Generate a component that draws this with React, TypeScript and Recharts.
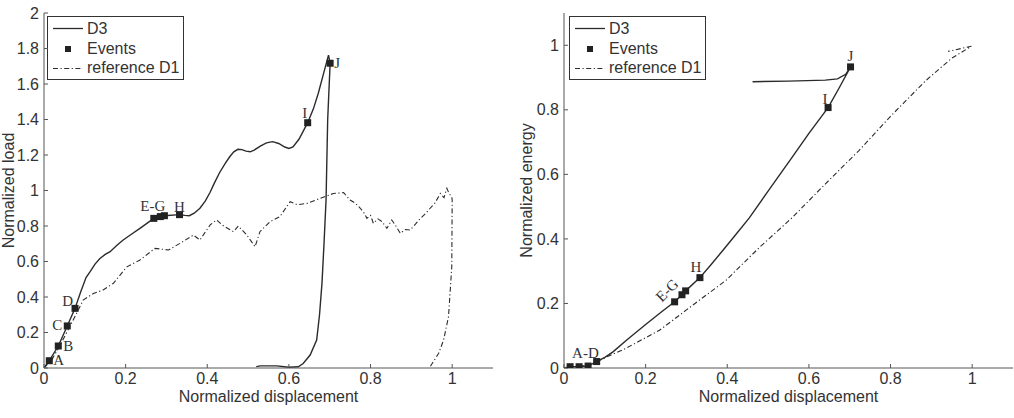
import React from "react";
import { ComposedChart, Line, Scatter, XAxis, YAxis, Label, Customized } from "recharts";

// axis ticks
const dispTicks = [0, 0.2, 0.4, 0.6, 0.8, 1];
const loadTicks = [0, 0.2, 0.4, 0.6, 0.8, 1, 1.2, 1.4, 1.6, 1.8, 2];
const energyTicks = [0, 0.2, 0.4, 0.6, 0.8, 1];

// load vs displacement, test D3 (loading up to J, then unloading)
const loadD3 = [
  { x: 0, y: 0 }, { x: 0.013, y: 0.041 }, { x: 0.035, y: 0.124 }, { x: 0.057, y: 0.237 },
  { x: 0.076, y: 0.336 }, { x: 0.09, y: 0.43 }, { x: 0.103, y: 0.51 }, { x: 0.113, y: 0.543 },
  { x: 0.125, y: 0.585 }, { x: 0.137, y: 0.617 }, { x: 0.15, y: 0.64 }, { x: 0.162, y: 0.655 },
  { x: 0.178, y: 0.69 }, { x: 0.194, y: 0.721 }, { x: 0.215, y: 0.755 }, { x: 0.235, y: 0.787 },
  { x: 0.252, y: 0.815 }, { x: 0.269, y: 0.843 }, { x: 0.285, y: 0.853 }, { x: 0.295, y: 0.858 },
  { x: 0.332, y: 0.864 }, { x: 0.345, y: 0.86 }, { x: 0.356, y: 0.858 }, { x: 0.368, y: 0.872 },
  { x: 0.382, y: 0.9 }, { x: 0.395, y: 0.94 }, { x: 0.407, y: 0.99 }, { x: 0.417, y: 1.04 },
  { x: 0.43, y: 1.1 }, { x: 0.444, y: 1.153 }, { x: 0.455, y: 1.19 }, { x: 0.465, y: 1.218 },
  { x: 0.475, y: 1.232 }, { x: 0.485, y: 1.23 }, { x: 0.495, y: 1.222 }, { x: 0.505, y: 1.218 },
  { x: 0.515, y: 1.228 }, { x: 0.53, y: 1.25 }, { x: 0.545, y: 1.268 }, { x: 0.56, y: 1.275 },
  { x: 0.575, y: 1.265 }, { x: 0.59, y: 1.245 }, { x: 0.6, y: 1.237 }, { x: 0.61, y: 1.245 },
  { x: 0.625, y: 1.29 }, { x: 0.646, y: 1.382 }, { x: 0.66, y: 1.46 }, { x: 0.672, y: 1.548 },
  { x: 0.685, y: 1.66 }, { x: 0.697, y: 1.763 }, { x: 0.701, y: 1.717 }, { x: 0.695, y: 1.4 },
  { x: 0.691, y: 0.946 }, { x: 0.686, y: 0.7 }, { x: 0.681, y: 0.477 }, { x: 0.675, y: 0.3 },
  { x: 0.668, y: 0.158 }, { x: 0.652, y: 0.073 }, { x: 0.635, y: 0.025 }, { x: 0.623, y: 0.007 },
  { x: 0.6, y: 0.004 }, { x: 0.57, y: 0.012 }, { x: 0.53, y: 0.012 }, { x: 0.52, y: 0.008 },
];

// load vs displacement, reference test D1
const loadD1 = [
  { x: 0, y: 0 }, { x: 0.02, y: 0.05 }, { x: 0.04, y: 0.13 }, { x: 0.06, y: 0.22 },
  { x: 0.078, y: 0.3 }, { x: 0.096, y: 0.383 }, { x: 0.121, y: 0.42 }, { x: 0.145, y: 0.44 },
  { x: 0.17, y: 0.477 }, { x: 0.203, y: 0.57 }, { x: 0.235, y: 0.608 }, { x: 0.272, y: 0.674 },
  { x: 0.305, y: 0.665 }, { x: 0.333, y: 0.702 }, { x: 0.366, y: 0.749 }, { x: 0.382, y: 0.721 },
  { x: 0.407, y: 0.806 }, { x: 0.423, y: 0.834 }, { x: 0.44, y: 0.8 }, { x: 0.464, y: 0.768 },
  { x: 0.476, y: 0.8 }, { x: 0.497, y: 0.749 }, { x: 0.517, y: 0.683 }, { x: 0.529, y: 0.768 },
  { x: 0.554, y: 0.825 }, { x: 0.578, y: 0.853 }, { x: 0.603, y: 0.937 }, { x: 0.62, y: 0.92 },
  { x: 0.644, y: 0.927 }, { x: 0.676, y: 0.955 }, { x: 0.709, y: 0.983 }, { x: 0.734, y: 0.988 },
  { x: 0.75, y: 0.946 }, { x: 0.762, y: 0.93 }, { x: 0.775, y: 0.9 }, { x: 0.785, y: 0.87 },
  { x: 0.791, y: 0.843 }, { x: 0.8, y: 0.86 }, { x: 0.807, y: 0.815 }, { x: 0.818, y: 0.84 },
  { x: 0.828, y: 0.825 }, { x: 0.84, y: 0.787 }, { x: 0.852, y: 0.834 }, { x: 0.862, y: 0.8 },
  { x: 0.873, y: 0.759 }, { x: 0.885, y: 0.78 }, { x: 0.897, y: 0.777 }, { x: 0.91, y: 0.81 },
  { x: 0.922, y: 0.843 }, { x: 0.935, y: 0.87 }, { x: 0.946, y: 0.9 }, { x: 0.958, y: 0.93 },
  { x: 0.971, y: 0.983 }, { x: 0.98, y: 0.96 }, { x: 0.987, y: 1.012 }, { x: 0.993, y: 0.98 },
  { x: 0.999, y: 0.965 }, { x: 1.0, y: 0.946 }, { x: 0.999, y: 0.57 }, { x: 0.991, y: 0.289 },
  { x: 0.979, y: 0.158 }, { x: 0.967, y: 0.083 }, { x: 0.946, y: 0.007 },
];

const loadEvents = [
  { x: 0.013, y: 0.041, tag: "A" }, { x: 0.035, y: 0.124, tag: "B" },
  { x: 0.057, y: 0.237, tag: "C" }, { x: 0.076, y: 0.336, tag: "D" },
  { x: 0.269, y: 0.843, tag: "E-G" }, { x: 0.285, y: 0.853, tag: "" },
  { x: 0.295, y: 0.858, tag: "" }, { x: 0.332, y: 0.864, tag: "H" },
  { x: 0.646, y: 1.382, tag: "I" }, { x: 0.701, y: 1.717, tag: "J" },
];

// energy vs displacement
const energyD3 = [
  { x: 0, y: 0 }, { x: 0.015, y: 0.004 }, { x: 0.037, y: 0.004 }, { x: 0.059, y: 0.006 },
  { x: 0.08, y: 0.02 }, { x: 0.1, y: 0.033 }, { x: 0.12, y: 0.05 }, { x: 0.153, y: 0.086 },
  { x: 0.2, y: 0.135 }, { x: 0.24, y: 0.175 }, { x: 0.271, y: 0.205 }, { x: 0.289, y: 0.227 },
  { x: 0.298, y: 0.239 }, { x: 0.333, y: 0.28 }, { x: 0.36, y: 0.32 }, { x: 0.389, y: 0.364 },
  { x: 0.42, y: 0.412 }, { x: 0.454, y: 0.465 }, { x: 0.5, y: 0.548 }, { x: 0.56, y: 0.655 },
  { x: 0.6, y: 0.727 }, { x: 0.647, y: 0.807 }, { x: 0.675, y: 0.87 }, { x: 0.702, y: 0.933 },
  { x: 0.69, y: 0.91 }, { x: 0.67, y: 0.896 }, { x: 0.64, y: 0.892 }, { x: 0.55, y: 0.889 },
  { x: 0.462, y: 0.887 },
];

const energyD1 = [
  { x: 0, y: 0 }, { x: 0.05, y: 0.008 }, { x: 0.08, y: 0.02 }, { x: 0.15, y: 0.06 },
  { x: 0.234, y: 0.117 }, { x: 0.3, y: 0.18 }, { x: 0.397, y: 0.272 }, { x: 0.48, y: 0.375 },
  { x: 0.56, y: 0.467 }, { x: 0.64, y: 0.57 }, { x: 0.722, y: 0.673 }, { x: 0.8, y: 0.78 },
  { x: 0.885, y: 0.889 }, { x: 0.95, y: 0.96 }, { x: 0.998, y: 0.997 }, { x: 0.941, y: 0.981 },
];

const energyEvents = [
  { x: 0.015, y: 0.004, tag: "A-D" }, { x: 0.037, y: 0.004, tag: "" },
  { x: 0.059, y: 0.006, tag: "" }, { x: 0.08, y: 0.02, tag: "" },
  { x: 0.271, y: 0.205, tag: "E-G" }, { x: 0.289, y: 0.227, tag: "" },
  { x: 0.298, y: 0.239, tag: "" }, { x: 0.333, y: 0.28, tag: "H" },
  { x: 0.647, y: 0.807, tag: "I" }, { x: 0.702, y: 0.933, tag: "J" },
];

type TagStyle = { dx: number; dy: number; anchor: "start" | "middle" | "end"; rotate?: number };

const loadTagStyle: Record<string, TagStyle> = {
  A: { dx: 4, dy: 4, anchor: "start" },
  B: { dx: 5, dy: 5, anchor: "start" },
  C: { dx: -5, dy: 4, anchor: "end" },
  D: { dx: -2, dy: -2, anchor: "end" },
  "E-G": { dx: -1, dy: -7, anchor: "middle" },
  H: { dx: 0, dy: -3, anchor: "middle" },
  I: { dx: -3, dy: -5, anchor: "middle" },
  J: { dx: 4, dy: 5, anchor: "start" },
};

const energyTagStyle: Record<string, TagStyle> = {
  "A-D": { dx: 2, dy: -9, anchor: "start" },
  "E-G": { dx: -4, dy: -8, anchor: "middle", rotate: -45 },
  H: { dx: -4, dy: -6, anchor: "middle" },
  I: { dx: -3, dy: -4, anchor: "middle" },
  J: { dx: 0, dy: -6, anchor: "middle" },
};

const SANS = "'Liberation Sans', Arial, Helvetica, sans-serif";
const SERIF = "'Liberation Serif', 'Times New Roman', serif";
const INK = "#2b2b2b";
const AXIS = "#555";
const DASHDOT = "5 2.5 1.2 2.5";

const tickStyle = { fill: "#333", fontSize: 16, fontFamily: SANS };

const makeMarker = (styles: Record<string, TagStyle>) => (props: any) => {
  const { cx, cy, payload } = props;
  const st = payload && payload.tag ? styles[payload.tag] : undefined;
  const tx = st ? cx + st.dx : 0;
  const ty = st ? cy + st.dy : 0;
  return (
    <g>
      <rect x={cx - 3.5} y={cy - 3.5} width={7} height={7} fill="#222" />
      {st && (
        <text
          x={tx}
          y={ty}
          textAnchor={st.anchor}
          transform={st.rotate ? `rotate(${st.rotate} ${tx} ${ty})` : undefined}
          fontFamily={SERIF}
          fontSize={15}
          fill="#333"
        >
          {payload.tag}
        </text>
      )}
    </g>
  );
};

// boxed legend drawn inside the chart svg, MATLAB style
const legendAt = (left: number, top: number) => () => (
  <g transform={`translate(${left} ${top})`}>
    <rect x={0.5} y={0.5} width={136} height={63} fill="#fff" stroke="#333" strokeWidth={1} />
    <line x1={6} x2={36} y1={12.5} y2={12.5} stroke={INK} strokeWidth={1.3} />
    <text x={40} y={17.5} fontFamily={SANS} fontSize={16} fill="#333">D3</text>
    <rect x={18} y={30} width={6} height={6} fill="#222" />
    <text x={40} y={37.5} fontFamily={SANS} fontSize={16} fill="#333">Events</text>
    <line x1={6} x2={36} y1={52.5} y2={52.5} stroke={INK} strokeWidth={1.1} strokeDasharray={DASHDOT} />
    <text x={40} y={57} fontFamily={SANS} fontSize={16} fill="#333">reference D1</text>
  </g>
);

const xTitle = (props: any) => {
  const { x, y, width } = props.viewBox;
  return (
    <text x={x + width / 2} y={y + 34} textAnchor="middle" fontFamily={SANS} fontSize={16} fill="#333">
      Normalized displacement
    </text>
  );
};

const yTitle = (text: string, inset: number) => (props: any) => {
  const { x, y, height } = props.viewBox;
  const cx = x + inset;
  const cy = y + height / 2;
  return (
    <text
      x={cx}
      y={cy}
      textAnchor="middle"
      transform={`rotate(-90 ${cx} ${cy})`}
      fontFamily={SANS}
      fontSize={16}
      fill="#333"
    >
      {text}
    </text>
  );
};

interface PanelProps {
  d3: { x: number; y: number }[];
  d1: { x: number; y: number }[];
  events: { x: number; y: number; tag: string }[];
  tagStyle: Record<string, TagStyle>;
  yTicks: number[];
  yMax: number;
  yLabel: string;
  labelInset: number;
  margin: { top: number; right: number; bottom: number; left: number };
  yWidth: number;
  legendLeft: number;
}

const Panel = (p: PanelProps) => (
  <ComposedChart width={507} height={418} margin={p.margin}>
    <XAxis
      type="number"
      dataKey="x"
      domain={[0, 1.1]}
      ticks={dispTicks}
      allowDataOverflow
      height={50}
      stroke={AXIS}
      tickSize={-4}
      tickMargin={9}
      tick={tickStyle}
    >
      <Label content={xTitle} />
    </XAxis>
    <YAxis
      type="number"
      dataKey="y"
      domain={[0, p.yMax]}
      ticks={p.yTicks}
      allowDataOverflow
      width={p.yWidth}
      stroke={AXIS}
      tickSize={-4}
      tickMargin={9}
      tick={tickStyle}
    >
      <Label content={yTitle(p.yLabel, p.labelInset)} />
    </YAxis>
    <Line
      data={p.d1}
      dataKey="y"
      type="linear"
      stroke={INK}
      strokeWidth={1.1}
      strokeDasharray={DASHDOT}
      dot={false}
      isAnimationActive={false}
    />
    <Line
      data={p.d3}
      dataKey="y"
      type="linear"
      stroke={INK}
      strokeWidth={1.4}
      dot={false}
      isAnimationActive={false}
    />
    <Scatter data={p.events} dataKey="y" shape={makeMarker(p.tagStyle)} isAnimationActive={false} />
    <Customized component={legendAt(p.legendLeft, 16)} />
  </ComposedChart>
);

export default function App() {
  return (
    <div style={{ position: "absolute", left: 0, top: 0, width: 1014, height: 418, background: "#fff", display: "flex" }}>
      <Panel
        d3={loadD3}
        d1={loadD1}
        events={loadEvents}
        tagStyle={loadTagStyle}
        yTicks={loadTicks}
        yMax={2}
        yLabel="Normalized load"
        labelInset={9.5}
        margin={{ top: 13, right: 14, bottom: 0, left: 4 }}
        yWidth={40}
        legendLeft={47}
      />
      <Panel
        d3={energyD3}
        d1={energyD1}
        events={energyEvents}
        tagStyle={energyTagStyle}
        yTicks={energyTicks}
        yMax={1.1}
        yLabel="Normalized energy"
        labelInset={14.5}
        margin={{ top: 13, right: 1, bottom: 0, left: 10 }}
        yWidth={47}
        legendLeft={62}
      />
    </div>
  );
}
